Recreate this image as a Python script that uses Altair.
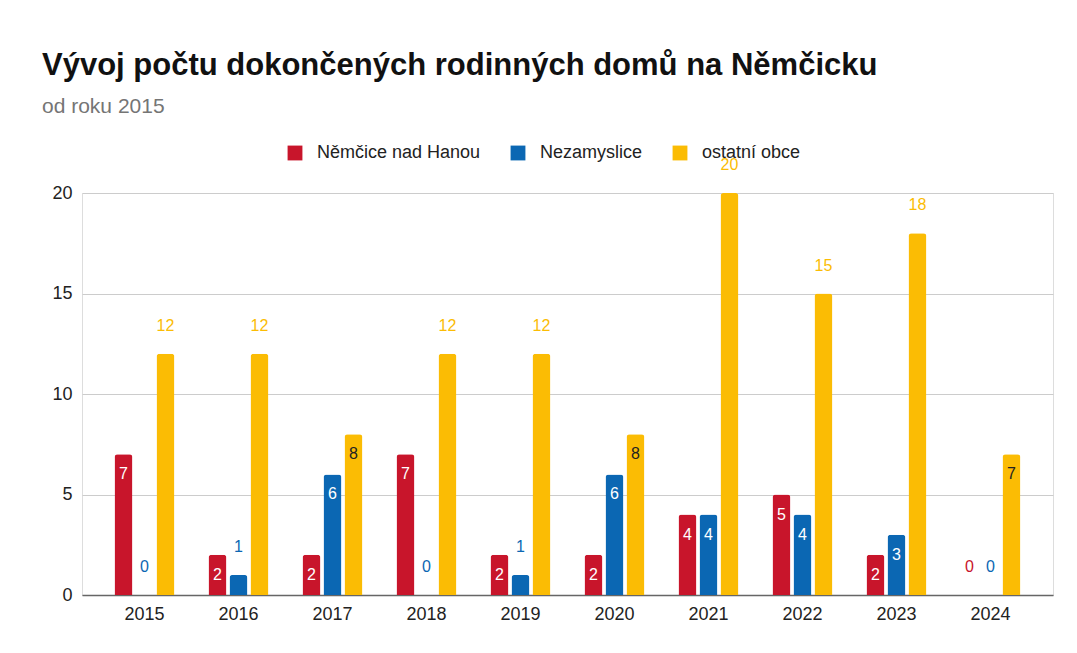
import altair as alt
import pandas as pd

years = ["2015", "2016", "2017", "2018", "2019", "2020", "2021", "2022", "2023", "2024"]
series = ["Němčice nad Hanou", "Nezamyslice", "ostatní obce"]
nemcice = [7, 2, 2, 7, 2, 2, 4, 5, 2, 0]
nezamyslice = [0, 1, 6, 0, 1, 6, 4, 4, 3, 0]
ostatni = [12, 12, 8, 12, 12, 8, 20, 15, 18, 7]
colors = ["#c8152b", "#0b67b3", "#fbbc04"]
inside_colors = ["#ffffff", "#ffffff", "#222222"]

FONT = "Liberation Sans"

rows = []
for s, vals, c, ic in zip(series, [nemcice, nezamyslice, ostatni], colors, inside_colors):
    for y, v in zip(years, vals):
        rows.append({"rok": y, "obec": s, "hodnota": v, "barva": c, "barva_in": ic})
df = pd.DataFrame(rows)

x_enc = alt.X("rok:N", sort=years, title=None,
              scale=alt.Scale(paddingInner=0, paddingOuter=0.165),
              axis=alt.Axis(labelAngle=0, ticks=False, domainColor="#666666", domainWidth=1.5,
                            labelFontSize=18, labelColor="#222222", labelPadding=10,
                            labelFont=FONT))
xo_enc = alt.XOffset("obec:N", sort=series,
                     scale=alt.Scale(paddingInner=0.143, paddingOuter=0.81))
y_enc = alt.Y("hodnota:Q", title=None,
              scale=alt.Scale(domain=[0, 20], nice=False),
              axis=alt.Axis(values=[0, 5, 10, 15, 20], domain=False, ticks=False,
                            gridColor="#cccccc", labelFontSize=18, labelColor="#222222",
                            labelPadding=10, labelFont=FONT))

base = alt.Chart(df)

bars = base.mark_bar(cornerRadiusTopLeft=3, cornerRadiusTopRight=3).encode(
    x=x_enc, xOffset=xo_enc, y=y_enc,
    color=alt.Color("obec:N", sort=series,
                    scale=alt.Scale(domain=series, range=colors),
                    legend=alt.Legend(title=None, orient="none", direction="horizontal",
                                      legendX=204, legendY=-49, symbolType="square",
                                      symbolSize=220, symbolStrokeWidth=0,
                                      labelFontSize=18, labelFont=FONT, labelLimit=0,
                                      labelColor="#222222", columnPadding=28,
                                      labelOffset=13)),
)

inside = base.transform_filter(
    "datum.hodnota >= 2 && datum.hodnota <= 8"
).mark_text(baseline="middle", dy=20, fontSize=16, font=FONT).encode(
    x=x_enc, xOffset=xo_enc, y=y_enc,
    text=alt.Text("hodnota:Q"),
    color=alt.Color("barva_in:N", scale=None),
)

outside = base.transform_filter(
    "datum.hodnota < 2 || datum.hodnota > 8"
).mark_text(baseline="middle", dy=-28, fontSize=16, font=FONT).encode(
    x=x_enc, xOffset=xo_enc, y=y_enc,
    text=alt.Text("hodnota:Q"),
    color=alt.Color("barva:N", scale=None),
)

chart = alt.layer(bars, inside, outside).properties(
    width=971,
    height=402,
    autosize=alt.AutoSizeParams(type="none"),
    padding={"left": 74, "top": 185, "right": 10, "bottom": 40},
    title=alt.TitleParams(
        text="Vývoj počtu dokončených rodinných domů na Němčicku",
        subtitle="od roku 2015",
        anchor="start", frame="group", dx=-40,
        font=FONT, fontSize=31, fontWeight="bold", color="#111111",
        subtitleFont=FONT, subtitleFontSize=21, subtitleColor="#757575",
        subtitlePadding=14, offset=26,
    ),
).configure_view(stroke=None).configure(background="#ffffff")

chart.save("out.html", embed_options={"renderer": "svg", "actions": False})
